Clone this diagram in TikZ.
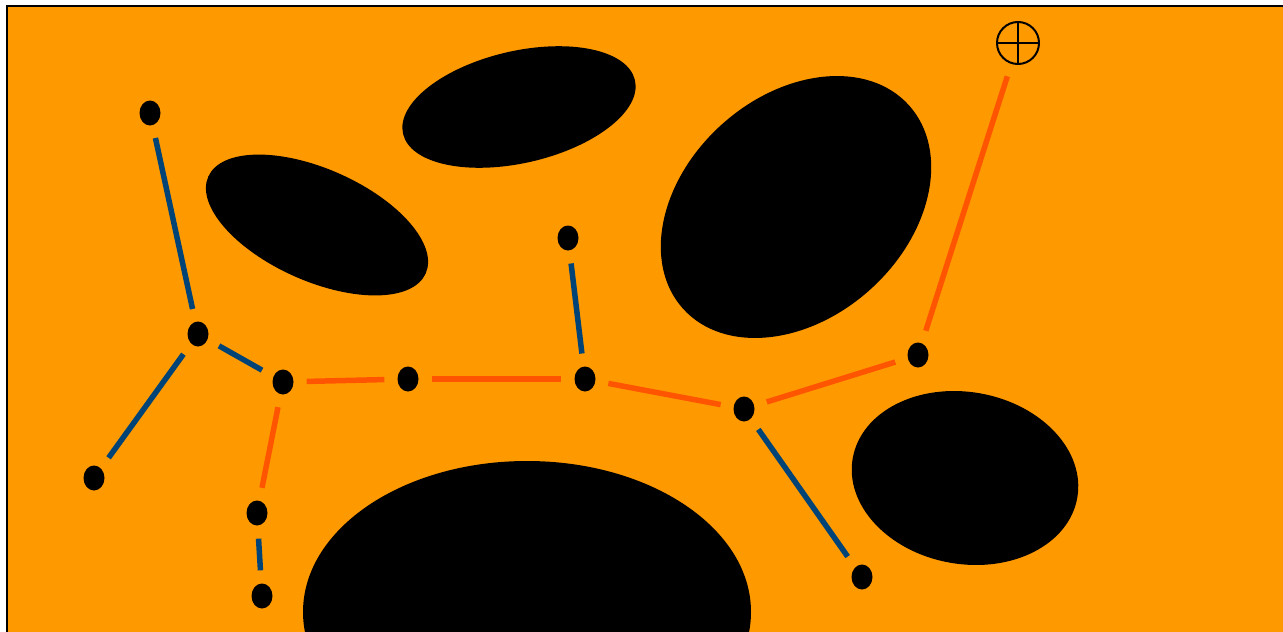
\documentclass[tikz,border=0pt]{standalone}
\usetikzlibrary{shapes.geometric}
\definecolor{field}{RGB}{255,153,0}
\definecolor{treeblue}{RGB}{0,68,119}
\definecolor{pathred}{RGB}{255,85,0}
\begin{document}
\begin{tikzpicture}[x=1pt,y=-1pt,
  vert/.style={ellipse,fill=black,inner sep=0pt,minimum width=21pt,minimum height=25pt},
  link/.style={line width=5.5pt,shorten <=13pt,shorten >=13pt},
  treelink/.style={link,treeblue},
  pathlink/.style={link,pathred},
  obstacle/.style={fill=black}]
\useasboundingbox (0,0) rectangle (1283,632);
% workspace
\draw[fill=field,line width=2pt] (7,6) rectangle (1300,650);
% obstacles
\fill[obstacle,rotate around={-24:(317,225)}] (317,225) ellipse (119 and 56);
\fill[obstacle,rotate around={13:(519,107)}] (519,107) ellipse (119 and 56);
\fill[obstacle,rotate around={42:(796,207)}] (796,207) ellipse (152 and 111);
\fill[obstacle,rotate around={-10:(965,478)}] (965,478) ellipse (114 and 86);
\fill[obstacle] (527,612) ellipse (224 and 151);
% tree vertices
\node[vert] (a) at (150,113) {};
\node[vert] (b) at (198,334) {};
\node[vert] (c) at (94,478) {};
\node[vert] (d) at (283,382) {};
\node[vert] (e) at (408,379) {};
\node[vert] (f) at (585,379) {};
\node[vert] (g) at (568,238) {};
\node[vert] (h) at (744,409) {};
\node[vert] (i) at (918,355) {};
\node[vert] (j) at (862,577) {};
\node[vert] (k) at (257,513) {};
\node[vert] (l) at (262,596) {};
% goal marker
\node[circle,draw,line width=2pt,minimum size=42pt,inner sep=0pt] (goal) at (1018,43) {};
\draw[line width=2pt] (goal.north) -- (goal.south) (goal.west) -- (goal.east);
% tree branches
\draw[treelink] (a) -- (b);
\draw[treelink] (b) -- (c);
\draw[treelink] (b) -- (d);
\draw[treelink] (f) -- (g);
\draw[treelink] (h) -- (j);
\draw[treelink] (k) -- (l);
% solution path
\draw[pathlink] (d) -- (e);
\draw[pathlink] (e) -- (f);
\draw[pathlink] (f) -- (h);
\draw[pathlink] (h) -- (i);
\draw[pathlink] (i) -- (goal);
\draw[pathlink] (d) -- (k);
\end{tikzpicture}
\end{document}
